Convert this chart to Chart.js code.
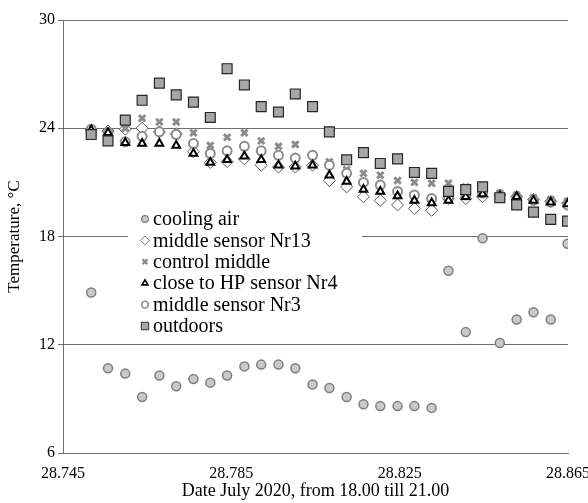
<!DOCTYPE html>
<html>
<head>
<meta charset="utf-8">
<script src="https://cdn.jsdelivr.net/npm/chart.js@4.4.0/dist/chart.umd.min.js"></script>
<style>
  body { margin: 0; background: #fff; }
  #wrap { width: 588px; height: 503px; }
</style>
</head>
<body>
<div id="wrap"><canvas id="tempChart" width="588" height="503"></canvas></div>
<script>
// time axis (day.fraction of July 2020)
const times = [28.7517, 28.7557, 28.7598, 28.7638, 28.7679, 28.7719, 28.7760, 28.7800, 28.7840, 28.7881,
  28.7921, 28.7962, 28.8002, 28.8043, 28.8083, 28.8124, 28.8164, 28.8204, 28.8245, 28.8285,
  28.8326, 28.8366, 28.8407, 28.8447, 28.8488, 28.8528, 28.8568, 28.8609, 28.8649];

const coolingAir = [14.9, 10.7, 10.4, 9.1, 10.3, 9.7, 10.1, 9.9, 10.3, 10.8, 10.9, 10.9, 10.7, 9.8, 9.6,
  9.1, 8.7, 8.6, 8.6, 8.6, 8.5, 16.1, 12.7, 17.9, 12.1, 13.4, 13.8, 13.4, 17.6];
const middleNr13 = [23.9, 23.85, 23.95, 24.0, 23.8, 23.7, 22.7, 22.1, 22.15, 22.3, 21.95, 21.85, 21.85, 21.95, 21.1,
  20.75, 20.2, 20.0, 19.75, 19.55, 19.45, 20.1, 20.1, 20.2, 20.3, 20.2, 20.05, 19.95, 19.85];
const controlMiddle = [23.95, 23.85, 24.0, 24.55, 24.35, 24.35, 23.75, 23.05, 23.5, 23.75, 23.3, 23.0, 23.1, 22.5, 22.15,
  21.7, 21.5, 21.4, 21.1, 21.0, 20.95, 20.95, 20.75, 20.5, 20.4, 20.3, 20.15, 20.05, 19.95];
const closeHpNr4 = [23.9, 23.75, 23.2, 23.15, 23.15, 23.05, 22.6, 22.1, 22.25, 22.45, 22.25, 21.95, 21.9, 21.95, 21.4,
  21.05, 20.6, 20.5, 20.25, 20.0, 19.85, 20.0, 20.2, 20.35, 20.25, 20.2, 20.0, 19.9, 19.8];
const middleNr3 = [23.95, 23.75, 23.25, 23.55, 23.8, 23.65, 23.15, 22.6, 22.75, 23.0, 22.75, 22.5, 22.35, 22.5, 21.95,
  21.5, 21.0, 20.85, 20.5, 20.3, 20.1, 20.15, 20.3, 20.4, 20.25, 20.15, 20.0, 19.9, 19.75];
const outdoors = [23.65, 23.3, 24.45, 25.55, 26.5, 25.85, 25.45, 24.6, 27.3, 26.4, 25.2, 24.9, 25.9, 25.2, 23.8,
  22.25, 22.65, 22.05, 22.3, 21.55, 21.5, 20.5, 20.6, 20.75, 20.15, 19.75, 19.35, 18.95, 18.85];

const xTicks = [28.745, 28.785, 28.825, 28.865];
const yTicks = [6, 12, 18, 24, 30];

const FONT = "'Liberation Serif', serif";
const gridCol = '#6e6e6e';

function pts(values) {
  return values.map((v, i) => ({ x: times[i], y: v }));
}

const datasets = [
  { label: 'cooling air', data: pts(coolingAir), pointStyle: 'circle', pointRadius: 4.5,
    backgroundColor: '#c9c9c9', borderColor: '#7f7f7f', borderWidth: 1.5, order: 5 },
  { label: 'middle sensor Nr13', data: pts(middleNr13), pointStyle: 'rectRot', pointRadius: 6,
    backgroundColor: '#ffffff', borderColor: '#595959', borderWidth: 1, order: 4 },
  { label: 'control middle', data: pts(controlMiddle), pointStyle: 'crossRot', pointRadius: 4.5,
    backgroundColor: '#8c8c8c', borderColor: '#8c8c8c', borderWidth: 3, order: 3 },
  { label: 'close to HP sensor Nr4', data: pts(closeHpNr4), pointStyle: 'triangle', pointRadius: 4.5,
    backgroundColor: '#ffffff', borderColor: '#000000', borderWidth: 2, order: 1 },
  { label: 'middle sensor Nr3', data: pts(middleNr3), pointStyle: 'circle', pointRadius: 4.5,
    backgroundColor: '#ffffff', borderColor: '#8c8c8c', borderWidth: 2, order: 2 },
  { label: 'outdoors', data: pts(outdoors), pointStyle: 'rect', pointRadius: 7,
    backgroundColor: '#a6a6a6', borderColor: '#262626', borderWidth: 1.2, order: 0 }
];

// legend drawn inside the plot area on a white patch
const innerLegend = {
  id: 'innerLegend',
  afterDatasetsDraw(chart) {
    const ctx = chart.ctx;
    ctx.save();
    ctx.fillStyle = '#ffffff';
    ctx.fillRect(128, 207, 234, 131);
    ctx.font = '20px ' + FONT;
    ctx.textBaseline = 'middle';
    ctx.textAlign = 'left';
    chart.data.datasets.forEach((ds, i) => {
      const y = 219 + i * 21.4;
      ctx.fillStyle = ds.backgroundColor;
      ctx.strokeStyle = ds.borderColor;
      ctx.lineWidth = ds.borderWidth * 0.8;
      Chart.helpers.drawPoint(ctx, {
        pointStyle: ds.pointStyle,
        radius: ds.pointRadius * 0.75,
        borderWidth: ds.borderWidth * 0.8,
        rotation: 0
      }, 145, y);
      ctx.fillStyle = '#000';
      ctx.fillText(ds.label, 153, y + 1);
    });
    ctx.restore();
  }
};

new Chart(document.getElementById('tempChart'), {
  type: 'scatter',
  data: { datasets },
  plugins: [innerLegend],
  options: {
    responsive: false,
    animation: false,
    layout: { padding: { top: 20, right: 0, left: 0, bottom: 0 } },
    plugins: {
      legend: { display: false },
      tooltip: { enabled: false }
    },
    scales: {
      x: {
        type: 'linear',
        bounds: 'data',
        min: 28.745,
        max: 28.865,
        afterBuildTicks: (scale) => {
          scale.ticks = xTicks.map(v => ({ value: v }));
        },
        afterFit: (scale) => {
          scale.height = 50;
          scale.paddingLeft = 0;
          scale.paddingRight = 20; // room on the right like the original plot
        },
        grid: { display: false },
        border: { display: true, color: gridCol, width: 1 },
        ticks: {
          color: '#000',
          font: { family: FONT, size: 16 },
          padding: 3,
          maxRotation: 0,
          callback: (v) => v.toFixed(3)
        },
        title: {
          display: true,
          text: 'Date July 2020, from 18.00 till 21.00',
          color: '#000',
          font: { family: FONT, size: 18 },
          padding: { top: 0, bottom: 1 }
        }
      },
      y: {
        bounds: 'data',
        min: 6,
        max: 30,
        afterBuildTicks: (scale) => {
          scale.ticks = yTicks.map(v => ({ value: v }));
        },
        afterFit: (scale) => { scale.width = 63; },
        grid: { color: gridCol, lineWidth: 1, drawTicks: true, tickLength: 5 },
        border: { display: true, color: gridCol, width: 1 },
        ticks: {
          color: '#000',
          font: { family: FONT, size: 16 },
          padding: 3
        },
        title: {
          display: true,
          text: 'Temperature, °C',
          color: '#000',
          font: { family: FONT, size: 17 },
          padding: { top: 4, bottom: 0 }
        }
      }
    }
  }
});
</script>
</body>
</html>
